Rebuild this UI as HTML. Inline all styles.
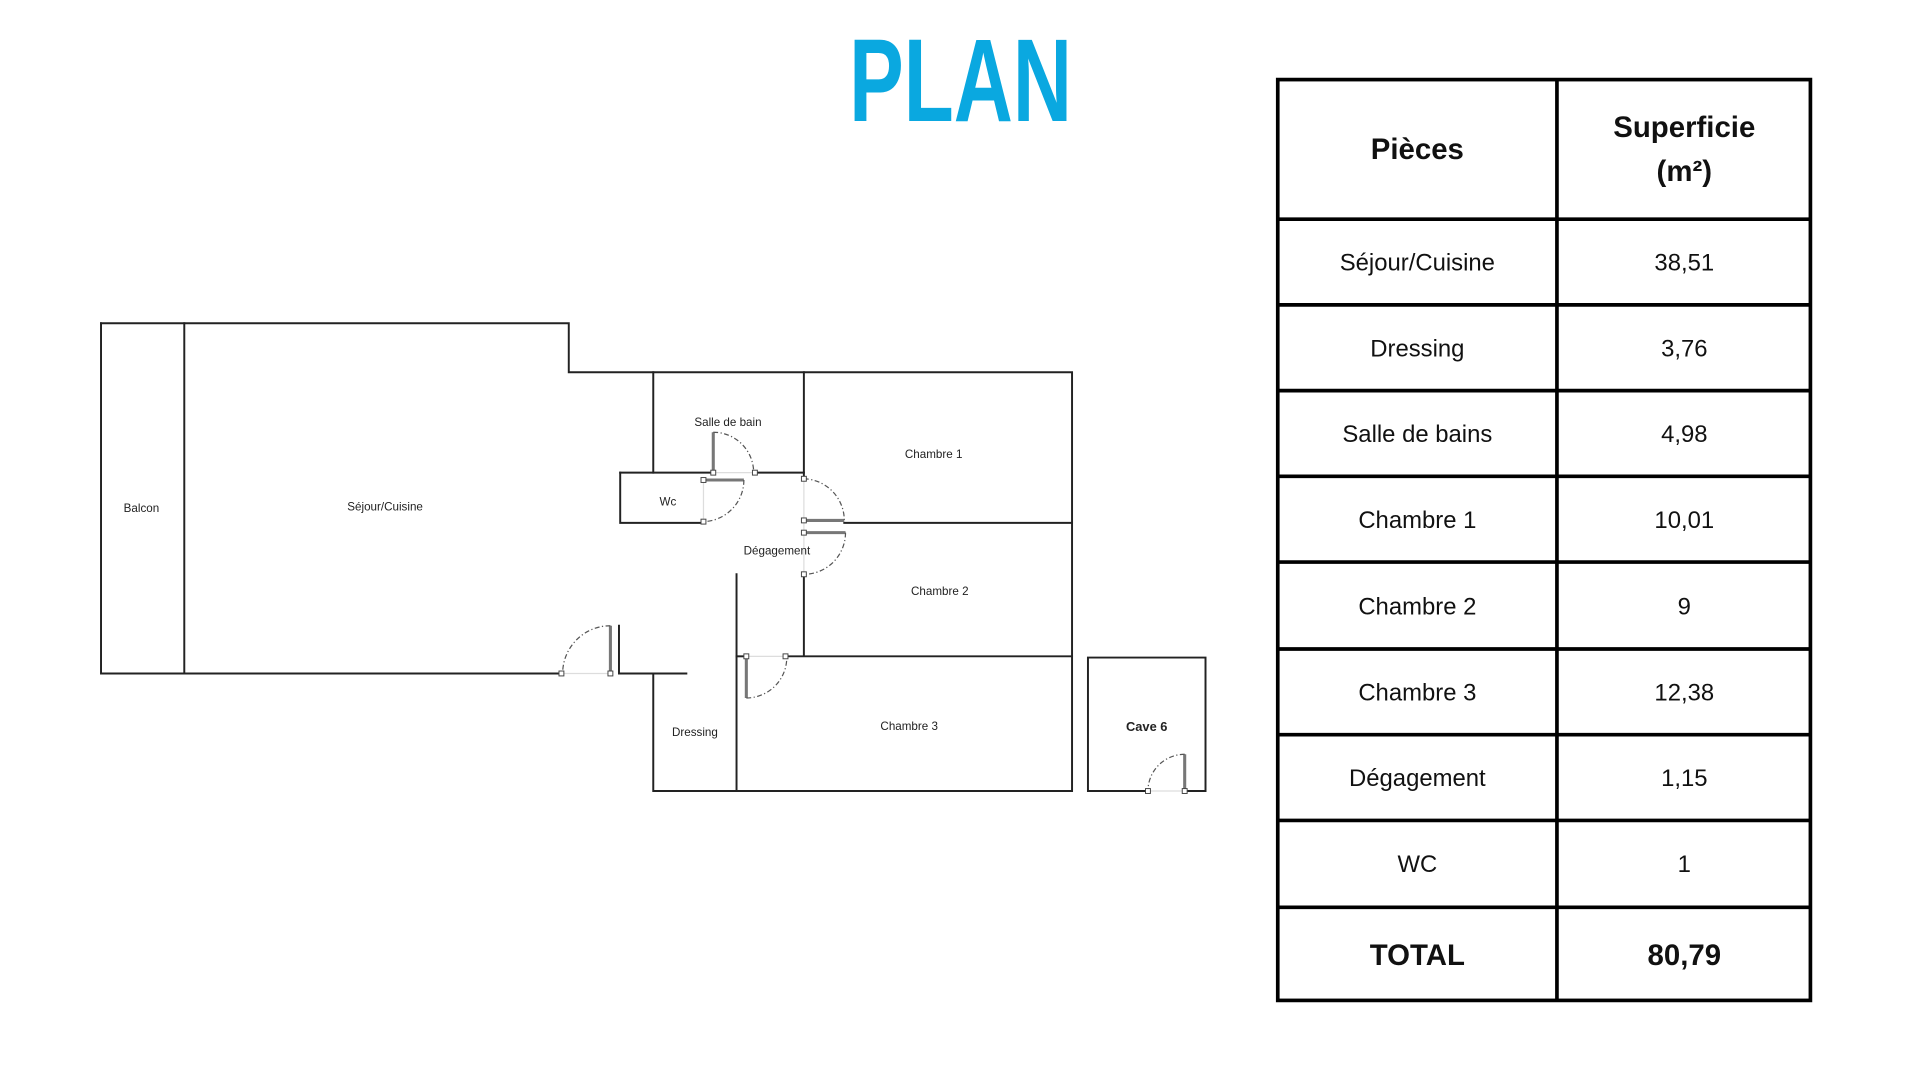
<!DOCTYPE html>
<html><head><meta charset="utf-8"><style>
html,body{margin:0;padding:0;background:#fff;width:1920px;height:1080px;overflow:hidden}
svg{display:block}
</style></head><body>
<svg width="1920" height="1080" viewBox="0 0 1567 882" xmlns="http://www.w3.org/2000/svg">
<rect width="1567" height="882" fill="#fff"/>
<text x="784" y="99" text-anchor="middle" font-family="Liberation Sans Narrow, Liberation Sans, sans-serif" font-weight="bold" font-size="96" fill="#0aa8e0" textLength="182" lengthAdjust="spacingAndGlyphs">PLAN</text>

<g stroke="#222" stroke-width="1.6" fill="none" stroke-linecap="square">
<path d="M82,264 H464 V304 H875 V646 H533 V550"/>
<path d="M82,264 V550 H458"/>
<path d="M150,264 V550"/>
<path d="M505,511 V550 H560"/>
<path d="M533,304 V386"/>
<path d="M506,386 H582 M616,386 H656"/>
<path d="M656,304 V391"/>
<path d="M506,386 V427 H574"/>
<path d="M689,427 H875"/>
<path d="M656,470 V536 M641,536 H875"/>
<path d="M601,469 V646"/>
<path d="M601,536 H609"/>
<path d="M888,646 V537 H984 V646 H967 M888,646 H937"/>
</g>
<g stroke="#ddd" stroke-width="1" fill="none">
<path d="M458,550 H498 M582,386 H616 M574,392 V426 M656,391 V469 M609,536 H641 M937,646 H967"/>
</g>
<g stroke="#777" stroke-width="2.5" fill="none">
<path d="M498,550 V511 M582,386 V353 M574,392 H607 M656,425 H689 M656,435 H690 M609,536 V570 M967,646 V616"/>
</g>
<g stroke="#555" stroke-width="1" fill="none" stroke-dasharray="4,2,1,2">
<path d="M498,511 A39,39 0 0 0 459,550"/>
<path d="M582,353 A33,33 0 0 1 615,386"/>
<path d="M607,392 A34,34 0 0 1 574,426"/>
<path d="M656,391 A34,34 0 0 1 689,425"/>
<path d="M690,435 A34,34 0 0 1 656,469"/>
<path d="M609,570 A33,33 0 0 0 642,536"/>
<path d="M967,616 A30,30 0 0 0 937,646"/>
</g>
<g fill="#fff" stroke="#444" stroke-width="0.8">
<rect x="456" y="548" width="4" height="4"/><rect x="496" y="548" width="4" height="4"/>
<rect x="580" y="384" width="4" height="4"/><rect x="614" y="384" width="4" height="4"/>
<rect x="572" y="390" width="4" height="4"/><rect x="572" y="424" width="4" height="4"/>
<rect x="654" y="389" width="4" height="4"/><rect x="654" y="423" width="4" height="4"/>
<rect x="654" y="433" width="4" height="4"/><rect x="654" y="467" width="4" height="4"/>
<rect x="607" y="534" width="4" height="4"/><rect x="639" y="534" width="4" height="4"/>
<rect x="935" y="644" width="4" height="4"/><rect x="965" y="644" width="4" height="4"/>
</g>
<g font-family="Liberation Sans, sans-serif" font-size="9.5" fill="#222" text-anchor="middle">
<text x="115" y="418">Balcon</text>
<text x="314" y="417">Séjour/Cuisine</text>
<text x="594" y="348">Salle de bain</text>
<text x="545" y="413">Wc</text>
<text x="762" y="374">Chambre 1</text>
<text x="634" y="453">Dégagement</text>
<text x="767" y="486">Chambre 2</text>
<text x="567" y="601">Dressing</text>
<text x="742" y="596">Chambre 3</text>
<text x="936" y="597" font-weight="bold" font-size="10.5">Cave 6</text>
</g>

<g stroke="#000" stroke-width="3" fill="none">
<rect x="1043" y="65" width="435" height="752"/>
<path d="M1271,65 V817"/>
<path d="M1043,179 H1478 M1043,249 H1478 M1043,319 H1478 M1043,389 H1478 M1043,459 H1478 M1043,530 H1478 M1043,600 H1478 M1043,670 H1478 M1043,741 H1478"/>
</g>
<g font-family="Liberation Sans, sans-serif" fill="#111" text-anchor="middle">
<g font-weight="bold" font-size="24">
<text x="1157" y="130">Pièces</text>
<text x="1375" y="112">Superficie</text>
<text x="1375" y="148">(m²)</text>
<text x="1157" y="788">TOTAL</text>
<text x="1375" y="788">80,79</text>
</g>
<g font-size="19.5">
<text x="1157" y="221">Séjour/Cuisine</text><text x="1375" y="221">38,51</text>
<text x="1157" y="291">Dressing</text><text x="1375" y="291">3,76</text>
<text x="1157" y="361">Salle de bains</text><text x="1375" y="361">4,98</text>
<text x="1157" y="431">Chambre 1</text><text x="1375" y="431">10,01</text>
<text x="1157" y="502">Chambre 2</text><text x="1375" y="502">9</text>
<text x="1157" y="572">Chambre 3</text><text x="1375" y="572">12,38</text>
<text x="1157" y="642">Dégagement</text><text x="1375" y="642">1,15</text>
<text x="1157" y="712">WC</text><text x="1375" y="712">1</text>
</g>
</g>
</svg>
</body></html>
